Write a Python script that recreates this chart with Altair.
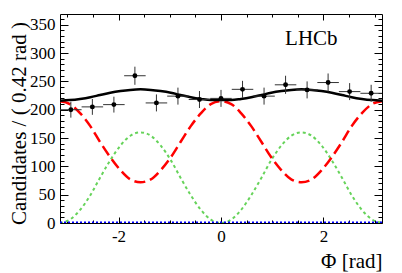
import altair as alt
import pandas as pd

# ---- data ----
phi_bins = [-2.93, -2.51, -2.09, -1.68, -1.26, -0.84, -0.42, 0.0,
            0.42, 0.84, 1.26, 1.68, 2.09, 2.51, 2.93]
counts = [200, 205, 209, 260, 212, 224, 218, 220, 236, 224, 244, 235, 248, 232, 229]
errors = [14, 14, 14, 16, 15, 15, 15, 15, 15, 15, 16, 15, 16, 15, 15]
half_bin = 0.21

curve_phi = [-3.1416, -2.95, -2.75, -2.55, -2.36, -2.16, -1.96, -1.77, -1.57,
             -1.37, -1.18, -0.98, -0.79, -0.59, -0.39, -0.20, 0.0,
             0.20, 0.39, 0.59, 0.79, 0.98, 1.18, 1.37, 1.57,
             1.77, 1.96, 2.16, 2.36, 2.55, 2.75, 2.95, 3.1416]
total_fit = [216, 217, 219, 222, 226, 230, 233, 235, 236, 235, 233, 230, 226, 222, 219, 217, 217,
             217, 219, 222, 226, 230, 233, 235, 236, 235, 233, 230, 226, 222, 219, 217, 216]
comp_red = [215, 210, 194, 171, 143, 116, 93, 77, 72, 77, 93, 116, 143, 171, 194, 210, 215,
            210, 194, 171, 143, 116, 93, 77, 72, 77, 93, 116, 143, 171, 194, 210, 215]
comp_green = [0, 6, 23, 49, 80, 111, 137, 154, 160, 154, 137, 111, 80, 49, 23, 6, 0,
              6, 23, 49, 80, 111, 137, 154, 160, 154, 137, 111, 80, 49, 23, 6, 0]
comp_blue = [1] * 33

x_major = [-2, 0, 2]
x_minor = [-3, -2.5, -1.5, -1, -0.5, 0.5, 1, 1.5, 2.5, 3]
y_major = [0, 50, 100, 150, 200, 250, 300, 350]
y_minor = [v for v in range(0, 370, 10) if v % 50 != 0]

label_text = ["LHCb"]
label_phi = [1.25]
label_y = [314]

FONT = "Liberation Serif"
W, H = 322, 209

pts = pd.DataFrame({"phi": phi_bins, "n": counts, "err": errors})
pts["lo"] = pts["n"] - pts["err"]
pts["hi"] = pts["n"] + pts["err"]
pts["xl"] = pts["phi"] - half_bin
pts["xr"] = pts["phi"] + half_bin

curves = pd.DataFrame({"phi": curve_phi, "total": total_fit, "red": comp_red,
                       "green": comp_green, "blue": comp_blue})
lab = pd.DataFrame({"t": label_text, "phi": label_phi, "y": label_y})

xs = alt.Scale(domain=[-3.1416, 3.1416], nice=False, zero=False)
ys = alt.Scale(domain=[0, 369], nice=False, zero=False)


def tick_axis(orient, values, size):
    return alt.Axis(orient=orient, values=values, tickSize=size, offset=-size,
                    labels=False, domain=False, grid=False, title=None,
                    tickColor="black", tickWidth=1)


x_label_axis = alt.Axis(
    orient="bottom", values=x_major, ticks=False, tickSize=0, domain=False, grid=False,
    labelFont=FONT, labelFontSize=17, labelPadding=5, labelColor="black",
    labelExpr="datum.value < 0 ? '-' + abs(datum.value) : '' + datum.value",
    title="Φ [rad]", titleFont=FONT, titleFontSize=21, titleFontWeight="normal",
    titleColor="black", titleAlign="right", titleX=W, titleY=44,
    titleBaseline="alphabetic")
y_label_axis = alt.Axis(
    orient="left", values=y_major, ticks=False, tickSize=0, domain=False, grid=False,
    labelFont=FONT, labelFontSize=17, labelPadding=5, labelColor="black",
    title="Candidates / ( 0.42 rad )", titleFont=FONT, titleFontSize=21,
    titleFontWeight="normal", titleColor="black", titleAngle=270,
    titleAlign="center", titleBaseline="alphabetic", titleX=-35, titleY=109)

green = alt.Chart(curves).mark_line(color="#66d35a", strokeWidth=2, strokeDash=[3, 3],
                                    clip=True, interpolate="monotone").encode(
    x=alt.X("phi:Q", scale=xs, axis=tick_axis("top", x_minor, 3)),
    y=alt.Y("green:Q", scale=ys, axis=tick_axis("right", y_minor, 4)))
red = alt.Chart(curves).mark_line(color="#ff0000", strokeWidth=2.5, strokeDash=[11, 5],
                                  clip=True, interpolate="monotone").encode(
    x=alt.X("phi:Q", scale=xs, axis=tick_axis("top", x_major, 6)),
    y=alt.Y("red:Q", scale=ys, axis=tick_axis("right", y_major, 8)))
blue = alt.Chart(curves).mark_line(color="#0000ff", strokeWidth=2, strokeDash=[2, 2],
                                   clip=True).encode(
    x=alt.X("phi:Q", scale=xs, axis=None),
    y=alt.Y("blue:Q", scale=ys, axis=None))
black = alt.Chart(curves).mark_line(color="black", strokeWidth=2.5,
                                    clip=True, interpolate="monotone").encode(
    x=alt.X("phi:Q", scale=xs, axis=None),
    y=alt.Y("total:Q", scale=ys, axis=None))
xerr = alt.Chart(pts).mark_rule(color="#333333", strokeWidth=1).encode(
    x=alt.X("xl:Q", scale=xs, axis=tick_axis("bottom", x_major, 6)),
    x2="xr:Q",
    y=alt.Y("n:Q", scale=ys, axis=tick_axis("left", y_major, 8)))
yerr = alt.Chart(pts).mark_rule(color="#333333", strokeWidth=1).encode(
    x=alt.X("phi:Q", scale=xs, axis=tick_axis("bottom", x_minor, 3)),
    y=alt.Y("lo:Q", scale=ys, axis=tick_axis("left", y_minor, 4)),
    y2="hi:Q")
dots = alt.Chart(pts).mark_circle(color="black", size=24, opacity=1).encode(
    x=alt.X("phi:Q", scale=xs, axis=x_label_axis),
    y=alt.Y("n:Q", scale=ys, axis=y_label_axis))
text = alt.Chart(lab).mark_text(font=FONT, fontSize=21, align="left",
                                baseline="alphabetic", color="black").encode(
    x=alt.X("phi:Q", scale=xs, axis=None),
    y=alt.Y("y:Q", scale=ys, axis=None),
    text="t:N")

chart = alt.layer(green, red, blue, black, xerr, yerr, dots, text).resolve_axis(
    x="independent", y="independent").properties(
    width=W, height=H,
    padding={"left": 52, "top": 6, "right": 12, "bottom": 52},
    autosize=alt.AutoSizeParams(type="none"),
    background="white",
).configure(font=FONT).configure_axis(labelFont=FONT, titleFont=FONT).configure_text(
    font=FONT).configure_view(stroke="black", strokeWidth=1)

chart.save("out.html", embed_options={"renderer": "svg", "actions": False})
